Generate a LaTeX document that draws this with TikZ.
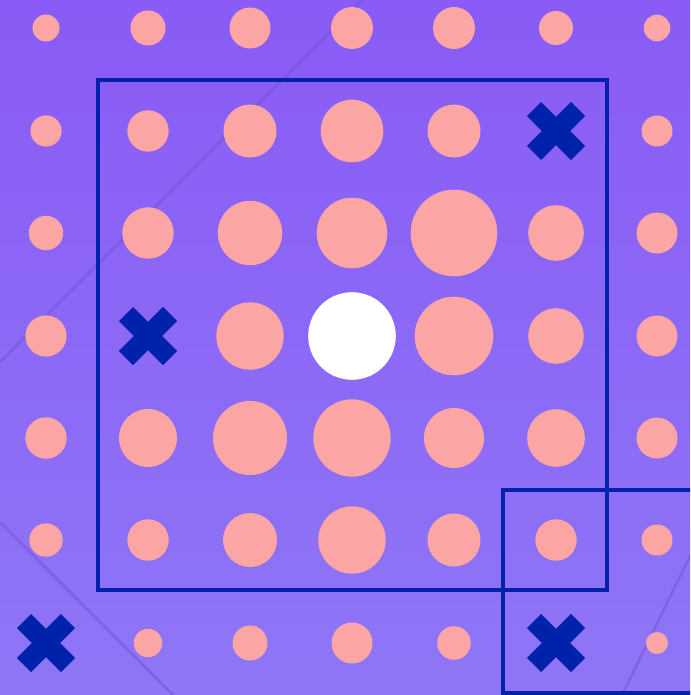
\documentclass[tikz,border=0pt]{standalone}
\usetikzlibrary{calc}
\definecolor{bgtop}{HTML}{8A5BF6}
\definecolor{bgbot}{HTML}{8E76F6}
\definecolor{dot}{HTML}{FCA5A5}
\definecolor{navy}{HTML}{0022AA}
\definecolor{faint}{HTML}{6F4FD0}
\tikzset{
  sq/.style={draw=navy,line width=4.5pt},
  dotfill/.style={fill=dot},
  xarm/.style={draw=navy,line width=20pt,line cap=butt},
  faintline/.style={draw=faint,line width=2.5pt,opacity=0.45}
}
\begin{document}
\begin{tikzpicture}[x=1pt,y=-1pt]
\useasboundingbox (0,0) rectangle (690,695);
\clip (0,0) rectangle (690,695);
\shade[top color=bgtop,bottom color=bgbot] (0,0) rectangle (690,695);
% faint background lines
\coordinate (la1) at (362,0); \coordinate (la2) at (0,362);
\coordinate (lb1) at (0,522); \coordinate (lb2) at (173,695);
\coordinate (lc1) at (692,552); \coordinate (lc2) at (621,697);
\draw[faintline] (la1) -- (la2);
\draw[faintline] (lb1) -- (lb2);
\draw[faintline] (lc1) -- (lc2);
% dots: x / y / radius
\foreach \x/\y/\r in {
 46/28/13.5, 148/28/17.5, 250/28/20.5, 352/28/21, 454/28/21, 556/28/17, 657/28/13.3,
 46/131/15.6, 148/131/20.7, 250/131/26.5, 352/131/31.3, 454/131/26.5, 657/131/15.5,
 46/233/17.2, 148/233/25.7, 250/233/32.2, 352/233/35.3, 454/233/43.3, 556/233/27.8, 657/233/20.5,
 46/336/20.6, 250/336/33.7, 454/336/39.3, 556/336/27.8, 657/336/20.5,
 46/438/20.7, 148/438/29, 250/438/37, 352/438/38.7, 454/438/30, 556/438/28.8, 657/438/20.5,
 46/540/16.7, 148/540/20.7, 250/540/27, 352/540/33.7, 454/540/26.5, 556/540/20.7, 657/540/15.5,
 148/643/14.2, 250/643/17.5, 352/643/20.5, 454/643/16.8, 657/643/11}
 {\fill[dotfill] (\x,\y) circle[radius=\r pt];}
\fill[white] (352,336) circle[radius=43.8pt];
% squares
\draw[sq] (98,80) rectangle (607,590);
\draw[sq] (503,490) rectangle (710,693);
% crosses
\foreach \x/\y in {556/131, 148/336, 46/643, 556/643}{
  \draw[xarm] ($(\x,\y)+(-22,-22)$) -- ($(\x,\y)+(22,22)$);
  \draw[xarm] ($(\x,\y)+(-22,22)$) -- ($(\x,\y)+(22,-22)$);
}
\end{tikzpicture}
\end{document}
